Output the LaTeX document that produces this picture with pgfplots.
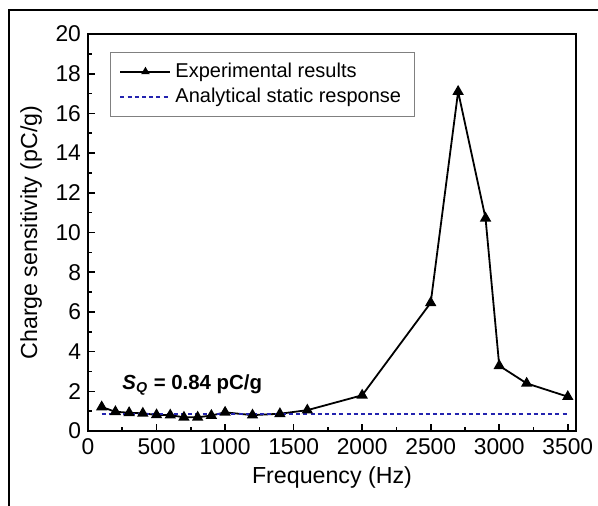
\documentclass[border=0pt]{standalone}
\usepackage{pgfplots}
\pgfplotsset{compat=1.18}
\usepackage{fontspec}
\setmainfont{Liberation Sans}
\definecolor{dashblue}{RGB}{35,35,175}
\begin{document}
\begin{tikzpicture}
\useasboundingbox (-44pt,-37pt) rectangle (255pt,215.5pt);
\draw[line width=1.3pt] (-39.5pt,-60pt) -- (-39.5pt,210.5pt) -- (280pt,210.5pt);
\begin{axis}[
  scale only axis, width=244pt, height=198.5pt,
  xmin=0, xmax=3560, ymin=0, ymax=20,
  xtick={0,500,...,3500}, ytick={0,2,...,20},
  minor x tick num=1, minor y tick num=1,
  tick align=inside, xtick pos=bottom, ytick pos=left,
  axis line style={line width=1pt},
  major tick length=3.5pt, minor tick length=2pt,
  tick style={line width=0.8pt, black},
  every tick label/.append style={font=\fontsize{11.4}{13}\selectfont},
  xticklabel style={yshift=-0.5pt},
  /pgf/number format/assume math mode=true,
  /pgf/number format/1000 sep={},
  xlabel={Frequency (Hz)}, ylabel={Charge sensitivity (pC/g)},
  label style={font=\fontsize{11.6}{13}\selectfont},
  xlabel style={yshift=1pt},
  legend cell align=left,
  legend style={at={(axis description cs:0.045,0.955)}, anchor=north west,
    draw=gray, line width=0.5pt, font=\fontsize{10}{11.5}\selectfont,
    inner xsep=4.5pt, inner ysep=3.3pt, row sep=0pt},
  legend image code/.code={\draw[mark repeat=2,mark phase=2,#1,mark size=1.6pt] plot coordinates {(0pt,0pt) (12.5pt,0pt) (25pt,0pt)};},
]
\addplot[black, line width=0.9pt, mark=triangle*, mark size=2.4pt, mark options={solid, fill=black}] coordinates {
(100,1.21) (200,0.97) (300,0.92) (400,0.89) (500,0.81) (600,0.80) (700,0.69) (800,0.69) (900,0.78) (1000,0.94)
(1200,0.80) (1400,0.87) (1600,1.05) (2000,1.80) (2500,6.46) (2700,17.1) (2900,10.72) (3000,3.29) (3200,2.40) (3500,1.73)
};
\addlegendentry{Experimental results}
\addplot[dashblue, line width=1pt, dash pattern=on 2pt off 1.6pt] coordinates {(100,0.84) (3500,0.84)};
\addlegendentry{Analytical static response}
\node[anchor=west, inner sep=0pt, font=\bfseries\fontsize{10.2}{11}\selectfont] at (axis cs:248,2.3) {\textit{S}\textsubscript{\textit{Q}} = 0.84 pC/g};
\end{axis}
\end{tikzpicture}
\end{document}
